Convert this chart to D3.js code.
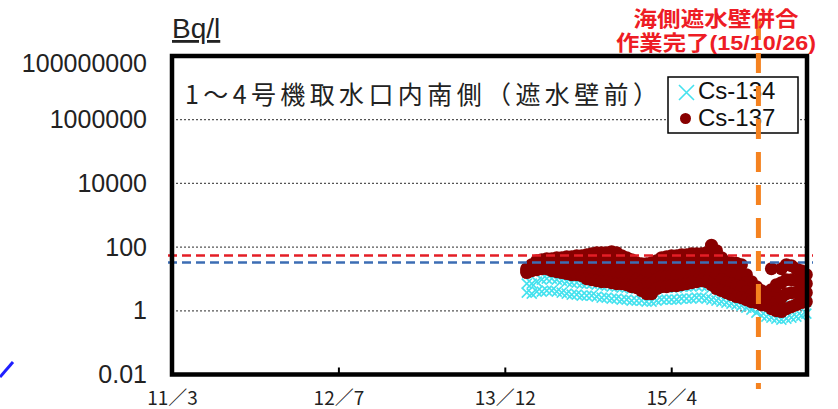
<!DOCTYPE html>
<html>
<head>
<meta charset="utf-8">
<script src="https://cdn.jsdelivr.net/npm/d3@7"></script>
<style>
  body { margin: 0; background: #fff; }
  svg { display: block; }
</style>
</head>
<body>
<div id="chart"></div>
<script>
const width = 838;
const height = 409;

// x axis: date ticks 500 days apart
const xTickDates = ['2011-03-11', '2012-07-23', '2013-12-05', '2015-04-19'];
const xTickLabels = ['11／3', '12／7', '13／12', '15／4'];
const xDomain = ['2011-03-11', '2016-05-31'];

// y axis: log scale, every 2 decades
const yTicks = [0.01, 1, 100, 10000, 1000000, 100000000];
const yTickLabels = ['0.01', '1', '100', '10000', '1000000', '100000000'];

// sampling dates (every 15 days from first sample)
const firstSample = '2014-02-09';
const sampleStepDays = 15;

// Cs-137 (Bq/l), several samples per date
const cs137High = [21.0, 28.1, 37.5, 40.3, 43.3, 43.3, 46.5, 46.5, 50.0, 50.0, 53.7, 53.7, 57.8, 62.1, 66.7, 66.7, 66.7, 71.7, 66.7, 53.7,
  46.5, 40.3, 32.4, 30.2, 30.2, 32.4, 37.5, 46.5, 50.0, 53.7, 53.7, 57.8, 57.8, 62.1, 62.1, 62.1, 66.7, 115, 77.1, 46.5,
  34.9, 32.4, 31.3, 28.1, 13.6, 8.23, 5.74, 4.30, 3.72, 21.0, 6.63, 21.0, 28.1, 26.1, 21.0, 18.2, 13.6];
const cs137Upper = [19.6, 24.3, 30.2, 32.4, 34.9, 32.4, 32.4, 32.4, 32.4, 32.4, 34.9, 32.4, 32.4, 32.4, 34.9, 32.4, 32.4, 34.9, 32.4, 28.1,
  24.3, 21.0, 18.2, 15.8, 14.7, 15.8, 19.6, 22.6, 24.3, 26.1, 26.1, 28.1, 28.1, 30.2, 32.4, 32.4, 32.4, 40.3, 30.2, 21.0,
  16.9, 14.7, 13.6, 12.7, 7.66, 4.97, 4.00, 3.00, 2.79, 4.62, 3.46, 7.66, 9.5, 9.5, 8.85, 8.23, 7.12];
const cs137Lower = [16.9, 21.0, 24.3, 26.1, 26.1, 24.3, 24.3, 22.6, 22.6, 21.0, 21.0, 21.0, 18.2, 18.2, 16.9, 16.9, 16.9, 15.8, 14.7, 13.6,
  12.7, 11.0, 9.5, 8.23, 7.12, 7.12, 9.5, 11.8, 11.8, 12.7, 12.7, 13.6, 14.7, 15.8, 15.8, 16.9, 16.9, 16.9, 12.7, 9.5,
  7.66, 7.12, 6.17, 5.74, 4.00, 3.22, 2.59, 2.24, 1.94, 2.59, 1.94, 2.59, 3.46, 3.72, 3.72, 4.00, 3.72];
const cs137Low = [15.8, 18.2, 19.6, 21.0, 21.0, 18.2, 16.9, 15.8, 14.7, 13.6, 13.6, 12.7, 10.2, 9.5, 8.85, 8.23, 8.23, 7.66, 7.12, 7.12,
  6.63, 5.74, 5.34, 4.30, 3.46, 3.46, 4.97, 5.74, 5.74, 6.17, 6.17, 6.63, 7.12, 7.66, 8.23, 8.85, 8.23, 6.63, 4.97, 4.30,
  3.72, 3.22, 2.79, 2.59, 2.24, 1.94, 1.81, 1.56, 1.46, 1.17, 1.01, 0.944, 1.17, 1.35, 1.56, 1.81, 1.94];

// Cs-134 (Bq/l)
const cs134High = [7.12, 7.12, 8.23, 9.5, 10.2, 10.2, 9.5, 8.85, 8.23, 7.66, 7.66, 7.12, 7.12, 7.12, 6.63, 6.17, 6.17, 5.74, 5.74, 5.34,
  5.34, 4.97, 4.97, 4.97, 4.62, 4.62, 4.97, 5.34, 5.34, 5.34, 5.34, 5.74, 5.74, 5.74, 6.17, 6.17, 5.74, 5.34, 4.97, 4.62,
  4.30, 4.00, 3.72, 3.46, 3.00, 2.59, 2.09, 1.68, 1.56, 1.46, 1.35, 1.26, 1.35, 1.46, 1.56, 1.68, 1.94];
const cs134Low = [3.72, 3.46, 4.00, 4.00, 4.30, 4.30, 4.00, 3.72, 3.46, 3.22, 3.22, 3.00, 3.00, 3.00, 2.79, 2.59, 2.59, 2.41, 2.41, 2.24,
  2.24, 2.09, 2.09, 2.09, 1.94, 1.94, 2.09, 2.24, 2.24, 2.24, 2.24, 2.41, 2.41, 2.41, 2.59, 2.59, 2.41, 2.24, 2.09, 1.94,
  1.81, 1.68, 1.56, 1.46, 1.26, 1.09, 0.878, 0.707, 0.658, 0.612, 0.569, 0.530, 0.569, 0.612, 0.658, 0.707, 0.817];

// reference lines (Bq/l)
const redLimit = 54;
const blueLimit = 33;

// seaside wall closure marker (placed where the picture draws it)
const wallDate = '2016-01-06';

const parse = d3.timeParse('%Y-%m-%d');
const start = parse(firstSample);
const sampleDates = cs137High.map((_, i) => d3.timeDay.offset(start, i * sampleStepDays));

const plotLeft = 172, plotRight = 807, plotTop = 56, plotBottom = 374.5;

const svg = d3.select('#chart')
  .append('svg')
  .attr('width', width)
  .attr('height', height);

const x = d3.scaleTime()
  .domain(xDomain.map(parse))
  .range([plotLeft, plotRight]);

const y = d3.scaleLog()
  .domain([0.01, 100000000])
  .range([plotBottom, plotTop]);

// stray stroke from neighbouring chart
svg.append('line')
  .attr('x1', 0).attr('y1', 377).attr('x2', 13).attr('y2', 362)
  .attr('stroke', '#1f1fff')
  .attr('stroke-width', 3);

// gridlines
svg.append('g')
  .selectAll('line')
  .data(yTicks.slice(1, -1))
  .join('line')
  .attr('x1', plotLeft)
  .attr('x2', plotRight)
  .attr('y1', d => y(d))
  .attr('y2', d => y(d))
  .attr('stroke', '#555')
  .attr('stroke-width', 1.2)
  .attr('stroke-dasharray', '2,2');

// Cs-134 crosses
const cs134Points = [];
[cs134High, cs134Low].forEach(arr => arr.forEach((v, i) => cs134Points.push({ date: sampleDates[i], value: v })));

svg.append('g')
  .selectAll('path')
  .data(cs134Points)
  .join('path')
  .attr('transform', d => `translate(${x(d.date)},${y(d.value)})`)
  .attr('d', 'M-5,-5L5,5M-5,5L5,-5')
  .attr('stroke', '#45e2ee')
  .attr('stroke-width', 1.6)
  .attr('fill', 'none');

// Cs-137 dots
const cs137Points = [];
[cs137High, cs137Upper, cs137Lower, cs137Low].forEach(arr => arr.forEach((v, i) => cs137Points.push({ date: sampleDates[i], value: v })));

svg.append('g')
  .selectAll('circle')
  .data(cs137Points)
  .join('circle')
  .attr('cx', d => x(d.date))
  .attr('cy', d => y(d.value))
  .attr('r', 6.5)
  .attr('fill', '#880000');

// limit lines
svg.append('line')
  .attr('x1', plotLeft - 4).attr('x2', plotRight + 6)
  .attr('y1', y(redLimit)).attr('y2', y(redLimit))
  .attr('stroke', '#e41e26')
  .attr('stroke-width', 2.5)
  .attr('stroke-dasharray', '9,5');

svg.append('line')
  .attr('x1', plotLeft - 4).attr('x2', plotRight + 6)
  .attr('y1', y(blueLimit)).attr('y2', y(blueLimit))
  .attr('stroke', '#3c6db4')
  .attr('stroke-width', 2.5)
  .attr('stroke-dasharray', '9,5');

// frame
svg.append('rect')
  .attr('x', plotLeft)
  .attr('y', plotTop)
  .attr('width', plotRight - plotLeft)
  .attr('height', plotBottom - plotTop)
  .attr('fill', 'none')
  .attr('stroke', '#000')
  .attr('stroke-width', 4.5);

// x axis
const xAxis = svg.append('g')
  .attr('transform', `translate(0,${plotBottom})`)
  .call(d3.axisBottom(x)
    .tickValues(xTickDates.map(parse))
    .tickFormat((d, i) => xTickLabels[i])
    .tickSize(-7)
    .tickPadding(17));
xAxis.select('.domain').remove();
xAxis.selectAll('line').attr('stroke', '#000').attr('stroke-width', 2);
xAxis.selectAll('text')
  .attr('font-family', '"Noto Sans CJK JP", sans-serif')
  .attr('font-size', 19)
  .attr('fill', '#222');

// y axis
const yAxis = svg.append('g')
  .attr('transform', `translate(${plotLeft},0)`)
  .call(d3.axisLeft(y)
    .tickValues(yTicks)
    .tickFormat((d, i) => yTickLabels[i])
    .tickSize(0)
    .tickPadding(25));
yAxis.select('.domain').remove();
yAxis.selectAll('text')
  .attr('font-family', '"Liberation Sans", Arial, sans-serif')
  .attr('font-size', 25)
  .attr('fill', '#222');
// the top label sits a little below its gridline in the original
yAxis.selectAll('.tick')
  .filter(d => d === 100000000)
  .select('text')
  .attr('dy', '0.62em');

// unit
svg.append('text')
  .attr('x', plotLeft)
  .attr('y', 38)
  .attr('font-family', '"Liberation Sans", Arial, sans-serif')
  .attr('font-size', 28)
  .attr('text-decoration', 'underline')
  .attr('fill', '#222')
  .text('Bq/l');

// in-plot title
svg.append('text')
  .attr('x', 185)
  .attr('y', 104)
  .attr('textLength', 473)
  .attr('lengthAdjust', 'spacing')
  .attr('font-family', '"Noto Sans CJK JP", sans-serif')
  .attr('font-size', 25)
  .attr('fill', '#222')
  .text('1～4号機取水口内南側（遮水壁前）');

// legend
const legend = svg.append('g').attr('transform', 'translate(668,77)');
legend.append('rect')
  .attr('width', 130)
  .attr('height', 56)
  .attr('fill', '#fff')
  .attr('stroke', '#000')
  .attr('stroke-width', 1.5);
legend.append('path')
  .attr('d', 'M11,8L26,23M11,23L26,8')
  .attr('stroke', '#45e2ee')
  .attr('stroke-width', 1.6);
legend.append('circle')
  .attr('cx', 17.5)
  .attr('cy', 41.5)
  .attr('r', 5.5)
  .attr('fill', '#880000');
legend.selectAll('text.leg')
  .data(['Cs-134', 'Cs-137'])
  .join('text')
  .attr('class', 'leg')
  .attr('x', 30)
  .attr('y', (d, i) => 22 + i * 27)
  .attr('font-family', '"Liberation Sans", Arial, sans-serif')
  .attr('font-size', 24)
  .attr('fill', '#111')
  .text(d => d);

// wall closure marker
svg.append('line')
  .attr('x1', x(parse(wallDate)))
  .attr('x2', x(parse(wallDate)))
  .attr('y1', 20)
  .attr('y2', 389)
  .attr('stroke', '#f5821f')
  .attr('stroke-width', 5)
  .attr('stroke-dasharray', '20,13');

svg.selectAll('text.note')
  .data(['海側遮水壁併合', '作業完了(15/10/26)'])
  .join('text')
  .attr('class', 'note')
  .attr('x', 716)
  .attr('y', (d, i) => 26 + i * 24)
  .attr('text-anchor', 'middle')
  .attr('textLength', (d, i) => i === 0 ? 165 : 200)
  .attr('lengthAdjust', 'spacingAndGlyphs')
  .attr('font-family', '"Liberation Sans", "Noto Sans CJK JP", sans-serif')
  .attr('font-weight', 'bold')
  .attr('font-size', 21)
  .attr('fill', '#ee1c25')
  .text(d => d);
</script>
</body>
</html>
